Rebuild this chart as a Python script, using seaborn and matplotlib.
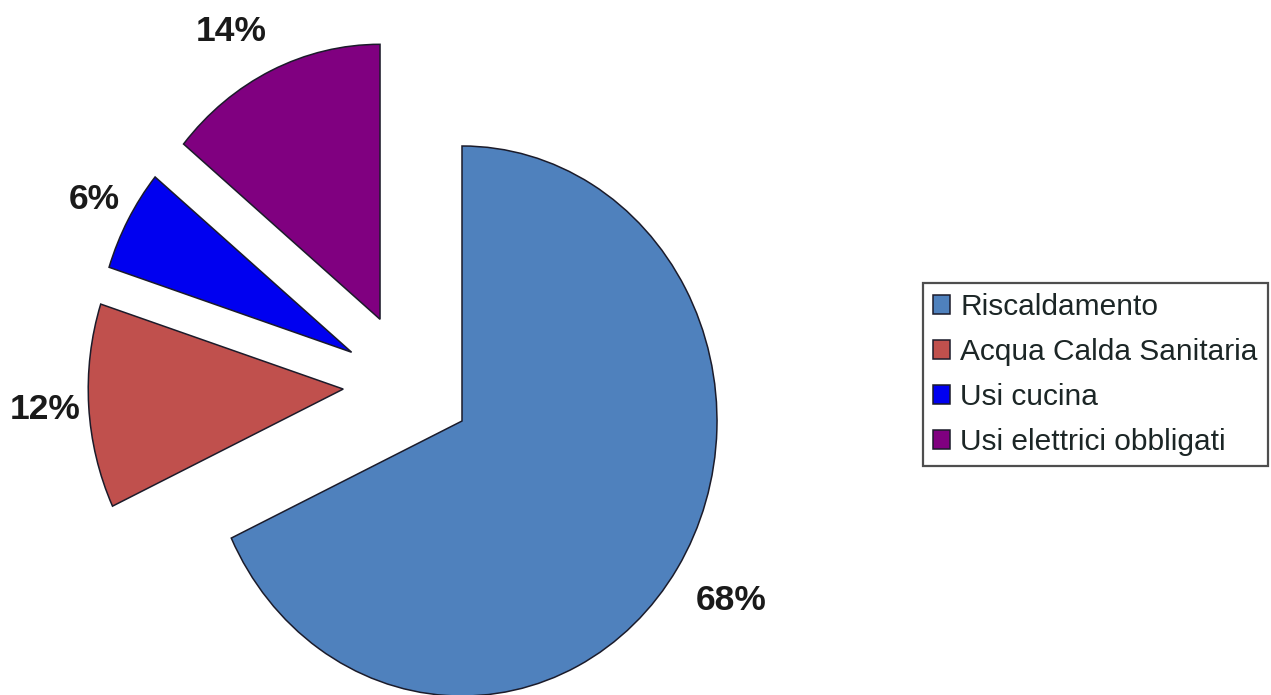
import numpy as np
import matplotlib
matplotlib.use("Agg")
import matplotlib.pyplot as plt
import seaborn as sns

# Household energy use shares
categories = ["Riscaldamento", "Acqua Calda Sanitaria", "Usi cucina", "Usi elettrici obbligati"]
shares = [68, 12, 6, 14]
pct_labels = ["68%", "12%", "6%", "14%"]

# Styling / layout (not data)
slice_colors = ["#4F81BD", "#C0504D", "#0000F0", "#800080"]
pull_dist = [0.0, 0.48, 0.50, 0.49]        # how far each slice is pulled out
pull_dir = [0.0, 166.0, 150.0, 131.0]       # direction of the pull, degrees
label_dist = [1.24, 1.17, 1.15, 1.20]
label_turn = [0.6, 0.0, 0.0, 4.0]           # small angular nudge of each label, degrees

sns.set_theme(style="white")
plt.rcParams["font.family"] = ["Liberation Sans", "DejaVu Sans"]

fig = plt.figure(figsize=(12.71, 6.95), dpi=100)
ax = fig.add_axes([0, 0, 1, 1])

palette = sns.color_palette(slice_colors)
wedges, _ = ax.pie(
    shares,
    colors=palette,
    startangle=90,
    counterclock=False,
    radius=1.0,
    wedgeprops=dict(edgecolor="#1b1b2a", linewidth=1.1),
)

for w, d, ang, lab, ld, turn in zip(wedges, pull_dist, pull_dir, pct_labels,
                                    label_dist, label_turn):
    cx = d * np.cos(np.radians(ang))
    cy = d * np.sin(np.radians(ang))
    w.set_center((cx, cy))
    mid = np.radians((w.theta1 + w.theta2) / 2.0 + turn)
    ax.text(cx + ld * np.cos(mid), cy + ld * np.sin(mid), lab,
            ha="center", va="center", fontsize=25.5, fontweight="bold",
            color="#1a1a1a")

ax.set_aspect("auto")
ax.set_xlim(-462 / 255, (1271 - 462) / 255)
ax.set_ylim(-(695 - 421) / 275, 421 / 275)
ax.axis("off")

leg = ax.legend(
    wedges, categories,
    loc="upper left",
    bbox_to_anchor=(923 / 1271, 1 - 283 / 695),
    bbox_transform=fig.transFigure,
    borderaxespad=0,
    fontsize=21.5,
    frameon=True,
    fancybox=False,
    handlelength=0.55,
    handleheight=0.6,
    handletextpad=0.35,
    labelspacing=0.56,
    borderpad=0.35,
)
frame = leg.get_frame()
frame.set_edgecolor("#222222")
frame.set_linewidth(1.6)
frame.set_facecolor("white")
for t in leg.get_texts():
    t.set_color("#1c2626")

fig.savefig("out.png", dpi=100, facecolor="white")
